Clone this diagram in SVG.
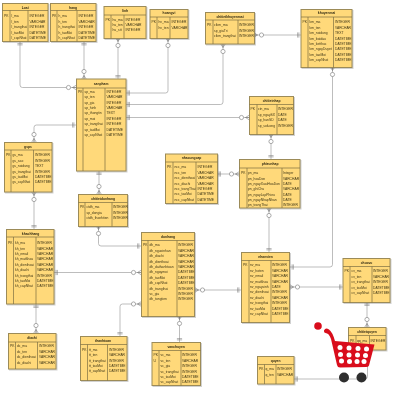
<svg xmlns="http://www.w3.org/2000/svg" width="400" height="400" viewBox="0 0 400 400">
<style>
text{font-family:"Liberation Sans",Arial,sans-serif;font-size:4.4px;fill:#3d3516;transform-box:fill-box;transform-origin:0 50%;transform:scaleX(.76)}
.h{font-weight:bold;text-anchor:middle;transform-origin:50% 50%;fill:#2e2710}
.b{fill:#ffd97a;stroke:#9c8b58;stroke-width:1;filter:drop-shadow(1px 1px .6px #0000002e)}
.l{fill:none;stroke:#7d6f40;stroke-width:.7}
.c{fill:none;stroke:#a0a0a0;stroke-width:.7;marker-start:url(#one);marker-end:url(#many)}
.m{marker-start:url(#many);marker-end:url(#one)}
.o{marker-end:url(#one)}
.cw{fill:#d9111c}.wd{fill:#fff}.wh{fill:#2e2e2e}
</style>
<defs>
<marker id="one" markerUnits="userSpaceOnUse" markerWidth="14" markerHeight="8" refX="12" refY="4" orient="auto-start-reverse"><path d="M8.600 1.400V6.600M9.900 1.400V6.600" fill="none" stroke="#777" stroke-width=".55"/></marker>
<marker id="many" markerUnits="userSpaceOnUse" markerWidth="14" markerHeight="8" refX="12" refY="4" orient="auto-start-reverse"><circle cx="4.500" cy="4" r="2.100" fill="#fff" stroke="#777" stroke-width=".6"/><path d="M8.500 4L12 1.800M8.500 4L12 6.200M8.500 4H12" fill="none" stroke="#777" stroke-width=".55"/></marker>
<filter id="soft" x="0" y="0" width="1" height="1"><feGaussianBlur stdDeviation=".22"/></filter>
</defs>
<g filter="url(#soft)">
<rect width="400" height="400" fill="#fff"/>
<g id="connectors">
<path class="c" d="M20 41.500V85Q20 87.500 22.500 87.500H76"/>
<path class="c" d="M84 41.500V79"/>
<path class="c m" d="M118 38V79"/>
<path class="c m" d="M168 38V90.500Q168 93 165.500 93H126"/>
<path class="c" d="M126 104.500H220.500Q223 104.500 223 102V44"/>
<path class="c" d="M126 117.500H249"/>
<path class="c m" d="M254 35H301"/>
<path class="c m" d="M332.500 67V264.500Q332.500 267 330 267H290"/>
<path class="c m" d="M271 134V159"/>
<path class="c" d="M217 174H239"/>
<path class="c m" d="M269 208V252"/>
<path class="c m" d="M195 290H241"/>
<path class="c m" d="M290 287H343"/>
<path class="c" d="M367 302V327"/>
<path class="c m" d="M367.500 350V376.500Q367.500 379 365 379H294"/>
<path class="c" d="M76 125H36.500Q34 125 34 127.500V142"/>
<path class="c" d="M99 171V194"/>
<path class="c m" d="M34 192V229"/>
<path class="c m" d="M98.500 226V243.500Q98.500 246 101 246H141"/>
<path class="c" d="M54 272.500H141"/>
<path class="c" d="M36 304V333"/>
<path class="c" d="M120 336V306.500Q120 304 122.500 304H141"/>
<path class="c m" d="M179.500 316V342"/>
</g>
<g id="loai"><rect class="b" x="2.500" y="3.500" width="45.500" height="38"/><path class="l" d="M2.500 10.500H48M10 10.500V41.500M28 10.500V41.500"/><text class="h" x="25.200" y="8.800">Loai</text><text x="4" y="17.400">PK</text>
<text x="11.500" y="17.400">l_ma</text><text x="29.500" y="17.400">INTEGER</text><text x="11.500" y="22.800">l_ten</text><text x="29.500" y="22.800">VARCHAR</text><text x="11.500" y="28.200">l_trangthai</text><text x="29.500" y="28.200">INTEGER</text><text x="11.500" y="33.600">l_taoMoi</text><text x="29.500" y="33.600">DATETIME</text><text x="11.500" y="39">l_capNhat</text><text x="29.500" y="39">DATETIME</text></g>
<g id="hang"><rect class="b" x="50.500" y="3.500" width="45.500" height="38"/><path class="l" d="M50.500 10.500H96M57 10.500V41.500M77 10.500V41.500"/><text class="h" x="73" y="8.800">hang</text><text x="52" y="17.400">PK</text>
<text x="58.500" y="17.400">h_ma</text><text x="78.500" y="17.400">INTEGER</text><text x="58.500" y="22.800">h_ten</text><text x="78.500" y="22.800">VARCHAR</text><text x="58.500" y="28.200">h_trangthai</text><text x="78.500" y="28.200">INTEGER</text><text x="58.500" y="33.600">h_taoMoi</text><text x="78.500" y="33.600">DATETIME</text><text x="58.500" y="39">h_capNhat</text><text x="78.500" y="39">DATETIME</text></g>
<g id="linh"><rect class="b" x="104" y="6.500" width="42" height="32"/><path class="l" d="M104 15H146M111 15V38.500M124 15V38.500"/><text class="h" x="125" y="12">linh</text><text x="105.500" y="20.800">PK</text>
<text x="112.500" y="20.800">hu_ma</text><text x="125.500" y="20.800">INTEGER</text><text x="112.500" y="26.200">hu_ten</text><text x="125.500" y="26.200">VARCHAR</text><text x="112.500" y="31.500">hu_stt</text><text x="125.500" y="31.500">INTEGER</text></g>
<g id="hoangvi"><rect class="b" x="150" y="9.500" width="38" height="29"/><path class="l" d="M150 17H188M157 17V38.500M170 17V38.500"/><text class="h" x="169" y="14.500">hoangvi</text><text x="151.500" y="23.500">PK</text>
<text x="158.500" y="23.500">hv_ma</text><text x="171.500" y="23.500">INTEGER</text><text x="158.500" y="28.900">hv_ten</text><text x="171.500" y="28.900">VARCHAR</text></g>
<g id="sanpham"><rect class="b" x="76.500" y="79" width="49.500" height="92"/><path class="l" d="M76.500 88H126M83 88V171M105 88V171"/><text class="h" x="101" y="85">sanpham</text><text x="78" y="92.800">PK</text>
<text x="84.500" y="92.800">sp_ma</text><text x="106.500" y="92.800">INTEGER</text><text x="84.500" y="98.200">sp_ten</text><text x="106.500" y="98.200">VARCHAR</text><text x="84.500" y="103.600">sp_gia</text><text x="106.500" y="103.600">INTEGER</text><text x="84.500" y="109.100">sp_hinh</text><text x="106.500" y="109.100">VARCHAR</text><text x="84.500" y="114.500">sp_thongtin</text><text x="106.500" y="114.500">TEXT</text><text x="84.500" y="119.900">sp_moi</text><text x="106.500" y="119.900">INTEGER</text><text x="84.500" y="125.300">sp_trangthai</text><text x="106.500" y="125.300">INTEGER</text><text x="84.500" y="130.700">sp_taoMoi</text><text x="106.500" y="130.700">DATETIME</text><text x="84.500" y="136.100">sp_capNhat</text><text x="106.500" y="136.100">DATETIME</text></g>
<g id="chitietkhuyenmai"><rect class="b" x="205.500" y="12.500" width="49" height="31.500"/><path class="l" d="M205.500 20H254.500M213 20V44M238 20V44"/><text class="h" x="230" y="17.600">chitietkhuyenmai</text><text x="207" y="26.500">PK</text>
<text x="214" y="26.500">ctkm_ma</text><text x="239" y="26.500">INTEGER</text><text x="214" y="31.900">sp_giaTri</text><text x="239" y="31.900">INTEGER</text><text x="214" y="37.300">ctkm_trangthai</text><text x="239" y="37.300">INTEGER</text></g>
<g id="khuyenmai"><rect class="b" x="301" y="9.500" width="51" height="58"/><path class="l" d="M301 17H352M308 17V67.500M333.500 17V67.500"/><text class="h" x="326.500" y="14.500">khuyenmai</text><text x="302.500" y="23.500">PK</text>
<text x="309.500" y="23.500">km_ma</text><text x="335" y="23.500">INTEGER</text><text x="309.500" y="28.900">km_ten</text><text x="335" y="28.900">VARCHAR</text><text x="309.500" y="34.300">km_noidung</text><text x="335" y="34.300">TEXT</text><text x="309.500" y="39.700">km_batdau</text><text x="335" y="39.700">DATETIME</text><text x="309.500" y="45.100">km_ketthuc</text><text x="335" y="45.100">DATETIME</text><text x="309.500" y="50.500">km_ngayDuyet</text><text x="335" y="50.500">DATETIME</text><text x="309.500" y="55.900">km_taoMoi</text><text x="335" y="55.900">DATETIME</text><text x="309.500" y="61.300">km_capNhat</text><text x="335" y="61.300">DATETIME</text></g>
<g id="chitietnhap"><rect class="b" x="249.500" y="96.500" width="44" height="38"/><path class="l" d="M249.500 104.500H293.500M257 104.500V134.500M277 104.500V134.500"/><text class="h" x="271.500" y="102">chitietnhap</text><text x="250.500" y="110.500">PK</text>
<text x="258" y="110.500">ctn_ma</text><text x="278" y="110.500">INTEGER</text><text x="258" y="115.900">sp_ngaySX</text><text x="278" y="115.900">DATE</text><text x="258" y="121.300">sp_hanSD</text><text x="278" y="121.300">DATE</text><text x="258" y="126.700">sp_soluong</text><text x="278" y="126.700">INTEGER</text></g>
<g id="nhacungcap"><rect class="b" x="165.500" y="154" width="52" height="49.500"/><path class="l" d="M165.500 162H217.500M173 162V203.500M196 162V203.500"/><text class="h" x="191.500" y="159.500">nhacungcap</text><text x="167" y="168.500">PK</text>
<text x="174.500" y="168.500">ncc_ma</text><text x="197.500" y="168.500">INTEGER</text><text x="174.500" y="173.900">ncc_ten</text><text x="197.500" y="173.900">VARCHAR</text><text x="174.500" y="179.300">ncc_dienthoai</text><text x="197.500" y="179.300">VARCHAR</text><text x="174.500" y="184.700">ncc_diachi</text><text x="197.500" y="184.700">VARCHAR</text><text x="174.500" y="190.100">ncc_trangThai</text><text x="197.500" y="190.100">INTEGER</text><text x="174.500" y="195.500">ncc_taoMoi</text><text x="197.500" y="195.500">DATETIME</text><text x="174.500" y="200.900">ncc_capNhat</text><text x="197.500" y="200.900">DATETIME</text></g>
<g id="phieunhap"><rect class="b" x="239.500" y="159.500" width="60.500" height="48.500"/><path class="l" d="M239.500 168H300M247 168V208M282 168V208"/><text class="h" x="270" y="165">phieunhap</text><text x="241" y="174.200">PK</text>
<text x="248" y="174.200">pn_ma</text><text x="283" y="174.200">Integer</text><text x="248" y="179.600">pn_hoaDon</text><text x="283" y="179.600">VARCHAR</text><text x="248" y="185">pn_ngayXuatHoaDon</text><text x="283" y="185">DATE</text><text x="248" y="190.400">pn_ghiChu</text><text x="283" y="190.400">VARCHAR</text><text x="248" y="195.800">pn_ngayLapPhieu</text><text x="283" y="195.800">DATE</text><text x="248" y="201.200">pn_ngayNhapNhan</text><text x="283" y="201.200">DATE</text><text x="248" y="206.500">pn_trangThai</text><text x="283" y="206.500">INTEGER</text></g>
<g id="gsps"><rect class="b" x="4.500" y="142.500" width="47.500" height="49.500"/><path class="l" d="M4.500 150H52M11 150V192M33.500 150V192"/><text class="h" x="28" y="147.800">gsps</text><text x="6" y="156.500">PK</text>
<text x="12.500" y="156.500">gs_ma</text><text x="35" y="156.500">INTEGER</text><text x="12.500" y="161.900">gs_sao</text><text x="35" y="161.900">INTEGER</text><text x="12.500" y="167.300">gs_noidung</text><text x="35" y="167.300">TEXT</text><text x="12.500" y="172.700">gs_trangthai</text><text x="35" y="172.700">INTEGER</text><text x="12.500" y="178.100">gs_taoMoi</text><text x="35" y="178.100">DATETIME</text><text x="12.500" y="183.500">gs_capNhat</text><text x="35" y="183.500">DATETIME</text></g>
<g id="chitietdonhang"><rect class="b" x="78.500" y="194.500" width="49" height="32"/><path class="l" d="M78.500 202.500H127.500M85 202.500V226.500M112 202.500V226.500"/><text class="h" x="103" y="199.800">chitietdonhang</text><text x="80" y="208.500">PK</text>
<text x="86.500" y="208.500">ctdh_ma</text><text x="113" y="208.500">INTEGER</text><text x="86.500" y="213.900">sp_dongia</text><text x="113" y="213.900">INTEGER</text><text x="86.500" y="219.300">ctdh_thanhtien</text><text x="113" y="219.300">INTEGER</text></g>
<g id="khachhang"><rect class="b" x="6.500" y="229.500" width="47.500" height="74.500"/><path class="l" d="M6.500 237H54M13.500 237V304M36 237V304"/><text class="h" x="30.500" y="234.800">khachhang</text><text x="8" y="244.300">PK</text>
<text x="15" y="244.300">kh_ma</text><text x="37" y="244.300">INTEGER</text><text x="15" y="249.700">kh_ten</text><text x="37" y="249.700">VARCHAR</text><text x="15" y="255.100">kh_email</text><text x="37" y="255.100">VARCHAR</text><text x="15" y="260.500">kh_matkhau</text><text x="37" y="260.500">VARCHAR</text><text x="15" y="265.900">kh_dienthoai</text><text x="37" y="265.900">VARCHAR</text><text x="15" y="271.300">kh_diachi</text><text x="37" y="271.300">VARCHAR</text><text x="15" y="276.700">kh_trangthai</text><text x="37" y="276.700">INTEGER</text><text x="15" y="282.100">kh_taoMoi</text><text x="37" y="282.100">DATETIME</text><text x="15" y="287.500">kh_capNhat</text><text x="37" y="287.500">DATETIME</text></g>
<g id="donhang"><rect class="b" x="141.500" y="232.500" width="53" height="84"/><path class="l" d="M141.500 240.500H194.500M148 240.500V316.500M177 240.500V316.500"/><text class="h" x="168" y="237.800">donhang</text><text x="143" y="246.500">PK</text>
<text x="149.500" y="246.500">dh_ma</text><text x="178" y="246.500">INTEGER</text><text x="149.500" y="251.900">dh_nguoinhan</text><text x="178" y="251.900">VARCHAR</text><text x="149.500" y="257.300">dh_diachi</text><text x="178" y="257.300">VARCHAR</text><text x="149.500" y="262.700">dh_dienthoai</text><text x="178" y="262.700">VARCHAR</text><text x="149.500" y="268.100">dh_dathanhtoan</text><text x="178" y="268.100">VARCHAR</text><text x="149.500" y="273.500">dh_ngaymoi</text><text x="178" y="273.500">DATETIME</text><text x="149.500" y="278.900">dh_taoMoi</text><text x="178" y="278.900">DATETIME</text><text x="149.500" y="284.300">dh_capNhat</text><text x="178" y="284.300">DATETIME</text><text x="149.500" y="289.700">dh_trangthai</text><text x="178" y="289.700">INTEGER</text><text x="149.500" y="295.100">vc_gia</text><text x="178" y="295.100">INTEGER</text><text x="149.500" y="300.500">dh_tongtien</text><text x="178" y="300.500">INTEGER</text></g>
<g id="diachi"><rect class="b" x="8.500" y="333.500" width="47.500" height="35.500"/><path class="l" d="M8.500 342H56M15.500 342V369M37.500 342V369"/><text class="h" x="32" y="339.500">diachi</text><text x="10" y="347.500">PK</text>
<text x="17" y="347.500">dc_ma</text><text x="39" y="347.500">INTEGER</text><text x="17" y="352.900">dc_ten</text><text x="39" y="352.900">VARCHAR</text><text x="17" y="358.300">dc_dienthoai</text><text x="39" y="358.300">VARCHAR</text><text x="17" y="363.700">dc_diachi</text><text x="39" y="363.700">VARCHAR</text></g>
<g id="thanhtoan"><rect class="b" x="80.500" y="336.500" width="46.500" height="44"/><path class="l" d="M80.500 344.500H127M87.500 344.500V380.500M107.500 344.500V380.500"/><text class="h" x="103" y="342">thanhtoan</text><text x="82" y="350.800">PK</text>
<text x="89" y="350.800">tt_ma</text><text x="109" y="350.800">INTEGER</text><text x="89" y="356.200">tt_ten</text><text x="109" y="356.200">VARCHAR</text><text x="89" y="361.600">tt_trangthai</text><text x="109" y="361.600">INTEGER</text><text x="89" y="367">tt_taoMoi</text><text x="109" y="367">DATETIME</text><text x="89" y="372.400">tt_capNhat</text><text x="109" y="372.400">DATETIME</text></g>
<g id="vanchuyen"><rect class="b" x="152" y="342.500" width="48.500" height="43"/><path class="l" d="M152 350.500H200.500M159 350.500V385.500M181 350.500V385.500"/><text class="h" x="176" y="348">vanchuyen</text><text x="153.500" y="356.500">PK</text><text x="153.500" y="361.900">U</text>
<text x="160.500" y="356.500">vc_ma</text><text x="182" y="356.500">INTEGER</text><text x="160.500" y="361.900">vc_ten</text><text x="182" y="361.900">VARCHAR</text><text x="160.500" y="367.300">vc_gia</text><text x="182" y="367.300">INTEGER</text><text x="160.500" y="372.700">vc_trangthai</text><text x="182" y="372.700">INTEGER</text><text x="160.500" y="378.100">vc_taoMoi</text><text x="182" y="378.100">DATETIME</text><text x="160.500" y="383.500">vc_capNhat</text><text x="182" y="383.500">DATETIME</text></g>
<g id="nhanvien"><rect class="b" x="241.500" y="252.500" width="48" height="70"/><path class="l" d="M241.500 260.500H289.500M249 260.500V322.500M271 260.500V322.500"/><text class="h" x="265.500" y="258">nhanvien</text><text x="243" y="266.500">PK</text>
<text x="250" y="266.500">nv_ma</text><text x="272" y="266.500">INTEGER</text><text x="250" y="271.900">nv_hoten</text><text x="272" y="271.900">VARCHAR</text><text x="250" y="277.300">nv_email</text><text x="272" y="277.300">VARCHAR</text><text x="250" y="282.700">nv_matkhau</text><text x="272" y="282.700">VARCHAR</text><text x="250" y="288.100">nv_ngaysinh</text><text x="272" y="288.100">DATE</text><text x="250" y="293.500">nv_dienthoai</text><text x="272" y="293.500">INTEGER</text><text x="250" y="298.900">nv_diachi</text><text x="272" y="298.900">VARCHAR</text><text x="250" y="304.300">nv_trangthai</text><text x="272" y="304.300">INTEGER</text><text x="250" y="309.700">nv_taoMoi</text><text x="272" y="309.700">DATETIME</text><text x="250" y="315.100">nv_capNhat</text><text x="272" y="315.100">DATETIME</text></g>
<g id="chucvu"><rect class="b" x="343" y="258.500" width="47" height="44"/><path class="l" d="M343 266.500H390M350 266.500V302.500M372 266.500V302.500"/><text class="h" x="366.500" y="264">chucvu</text><text x="344.500" y="272.500">PK</text>
<text x="351.500" y="272.500">cv_ma</text><text x="373" y="272.500">INTEGER</text><text x="351.500" y="277.900">cv_ten</text><text x="373" y="277.900">VARCHAR</text><text x="351.500" y="283.300">cv_trangthai</text><text x="373" y="283.300">INTEGER</text><text x="351.500" y="288.700">cv_taoMoi</text><text x="373" y="288.700">DATETIME</text><text x="351.500" y="294.100">cv_capNhat</text><text x="373" y="294.100">DATETIME</text></g>
<g id="chitietquyen"><rect class="b" x="348.500" y="327.500" width="37.500" height="22.500"/><path class="l" d="M348.500 335.500H386M356 335.500V350M369.500 335.500V350"/><text class="h" x="367" y="333">chitietquyen</text><text x="350" y="341.800">PK</text>
<text x="357" y="341.800">qq_ma</text><text x="370.500" y="341.800">INTEGER</text></g>
<g id="quyen"><rect class="b" x="257.500" y="356.500" width="36.500" height="27.500"/><path class="l" d="M257.500 364.500H294M264.500 364.500V384M276 364.500V384"/><text class="h" x="275.500" y="362">quyen</text><text x="259" y="370.500">PK</text>
<text x="265.500" y="370.500">q_ma</text><text x="277" y="370.500">INTEGER</text><text x="265.500" y="375.900">q_ten</text><text x="277" y="375.900">VARCHAR</text></g>
<g id="cart">
<circle class="cw" cx="318" cy="326" r="3.800"/>
<path class="cw" d="M324 330.500Q325.500 327 329 329.500Q332.500 332 335 341L374.500 344.500L369 365.500Q368.500 367 366 367L340 367.500Q337.500 367.500 337 365L331 339Q329 333 325.500 333Q323.500 332.500 324 330.500Z"/>
<g class="wd"><circle cx="340" cy="347.500" r="2.500"/><circle cx="349" cy="348" r="2.500"/><circle cx="358" cy="348.500" r="2.500"/><circle cx="366.500" cy="349" r="2.500"/><circle cx="340.500" cy="354.500" r="2.500"/><circle cx="349" cy="355" r="2.500"/><circle cx="357.500" cy="355" r="2.500"/><circle cx="365.500" cy="355.500" r="2.500"/><circle cx="341.500" cy="361" r="2.500"/><circle cx="349.500" cy="361.500" r="2.500"/><circle cx="357" cy="361.500" r="2.500"/><circle cx="364" cy="361.500" r="2.500"/></g>
<circle class="wh" cx="344" cy="377.500" r="5"/><circle class="wh" cx="361.500" cy="377.500" r="5"/>
</g>
</g>
</svg>
